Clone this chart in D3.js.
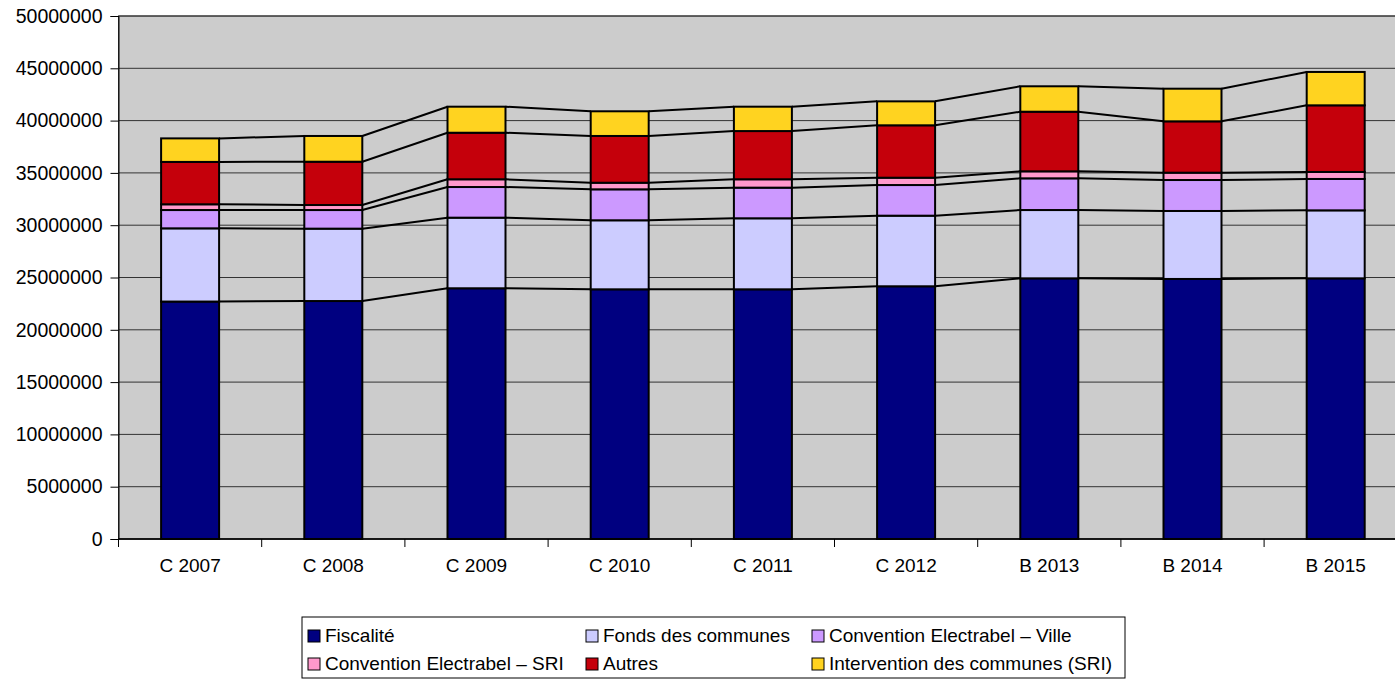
<!DOCTYPE html>
<html><head><meta charset="utf-8">
<script src="https://cdn.jsdelivr.net/npm/d3@7"></script>
<style>body{margin:0;background:#fff;overflow:hidden}svg{display:block;font-family:"Liberation Sans",Arial,sans-serif}</style>
</head><body><svg id="c" width="1395" height="679"></svg>
<script>
const categories = ["C 2007","C 2008","C 2009","C 2010","C 2011","C 2012","B 2013","B 2014","B 2015"];
const seriesNames = ["Fiscalité","Fonds des communes","Convention Electrabel – Ville","Convention Electrabel – SRI","Autres","Intervention des communes (SRI)"];
const fiscalite   = [22700000,22750000,23970000,23870000,23870000,24160000,24920000,24860000,24920000];
const fonds       = [7000000,6920000,6750000,6600000,6790000,6750000,6530000,6500000,6500000];
const convVille   = [1750000,1780000,2930000,2960000,2930000,2930000,3030000,2960000,3000000];
const convSRI     = [550000,480000,740000,630000,800000,700000,670000,700000,670000];
const autres      = [4050000,4140000,4450000,4470000,4610000,5010000,5700000,4910000,6370000];
const intervention= [2250000,2460000,2490000,2360000,2330000,2290000,2430000,3120000,3190000];
const yTicks = [0,5000000,10000000,15000000,20000000,25000000,30000000,35000000,40000000,45000000,50000000];
const colors = ["#000080","#CCCCFF","#CC99FF","#FF99CC","#C5000B","#FFD320"];

const seriesVals = [fiscalite,fonds,convVille,convSRI,autres,intervention];
const rows = categories.map((c,i)=>{const o={cat:c};seriesNames.forEach((s,j)=>o[s]=seriesVals[j][i]);return o;});
const stacked = d3.stack().keys(seriesNames)(rows);

const svg = d3.select("#c");
const L=118.5,R=1407.3,T=16,B=539;
const x = d3.scaleBand().domain(categories).range([L,R]).paddingInner(0.595).paddingOuter(0.2975);
const y = d3.scaleLinear().domain([0,50000000]).range([B,T]);

svg.append("rect").attr("x",L).attr("y",T).attr("width",R-L).attr("height",B-T).attr("fill","#CCCCCC");
svg.append("g").selectAll("line").data(yTicks).join("line")
  .attr("x1",L).attr("x2",R).attr("y1",d=>y(d)).attr("y2",d=>y(d)).attr("stroke","#333").attr("stroke-width",1);
svg.append("rect").attr("x",L).attr("y",T).attr("width",R-L).attr("height",B-T).attr("fill","none").attr("stroke","#333").attr("stroke-width",1);

// series lines
stacked.forEach(s=>{
  for(let i=0;i<categories.length-1;i++){
    svg.append("line")
      .attr("x1",x(categories[i])+x.bandwidth()).attr("y1",y(s[i][1]))
      .attr("x2",x(categories[i+1])).attr("y2",y(s[i+1][1]))
      .attr("stroke","#000").attr("stroke-width",2);
  }
});

// bars
svg.append("g").selectAll("g").data(stacked).join("g").attr("fill",(d,i)=>colors[i])
  .selectAll("rect").data(d=>d).join("rect")
  .attr("x",d=>x(d.data.cat)).attr("width",x.bandwidth())
  .attr("y",d=>y(d[1])).attr("height",d=>y(d[0])-y(d[1]))
  .attr("stroke","#000").attr("stroke-width",2);

// y axis
const ya = d3.axisLeft(y).tickValues(yTicks).tickFormat(d3.format("d")).tickSize(8).tickPadding(8);
const yg = svg.append("g").attr("transform",`translate(${L},0)`).call(ya);
yg.select(".domain").attr("stroke","#000");
yg.selectAll("text").attr("font-size",19.5).attr("fill","#000").attr("font-family","Liberation Sans, Arial, sans-serif");
yg.selectAll("line").attr("stroke","#000");

// x axis
const xg = svg.append("g").attr("transform",`translate(0,${B})`);
xg.append("line").attr("x1",L).attr("x2",R).attr("stroke","#000").attr("stroke-width",1.5);
d3.range(categories.length+1).forEach(i=>{
  const xx = L + i*x.step();
  xg.append("line").attr("x1",xx).attr("x2",xx).attr("y1",0).attr("y2",8).attr("stroke","#000");
});
xg.selectAll("text").data(categories).join("text")
  .attr("x",d=>x(d)+x.bandwidth()/2).attr("y",33).attr("text-anchor","middle")
  .attr("font-size",19).attr("fill","#000").text(d=>d);

// legend
const lg = svg.append("g");
lg.append("rect").attr("x",302).attr("y",617).attr("width",823).attr("height",61).attr("fill","#fff").attr("stroke","#000");
const colX=[308,586,812], rowY=[642,670];
seriesNames.forEach((s,i)=>{
  const cx=colX[i%3], by=rowY[Math.floor(i/3)];
  lg.append("rect").attr("x",cx).attr("y",by-12).attr("width",12).attr("height",12).attr("fill",colors[i]).attr("stroke","#000");
  lg.append("text").attr("x",cx+17).attr("y",by).attr("font-size",19).attr("fill","#000").text(s);
});
</script></body></html>
